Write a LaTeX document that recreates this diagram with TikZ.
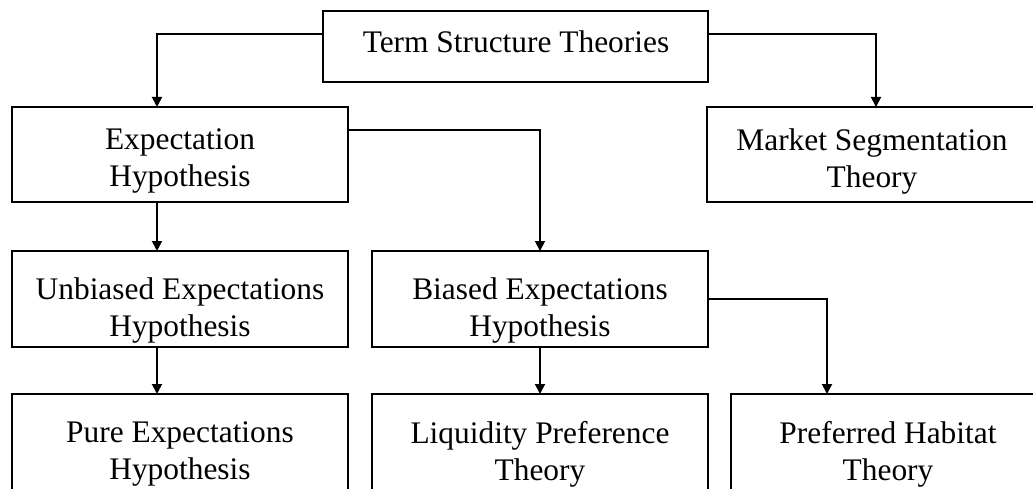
\documentclass[tikz,border=0pt]{standalone}
\usepackage{fontspec}
\setmainfont{Liberation Serif}
\usetikzlibrary{arrows.meta,calc}
\begin{document}
\begin{tikzpicture}[x=1pt,y=-1pt,
 box/.style={draw,line width=1.9pt,anchor=north west,inner sep=0pt,outer sep=0pt},
 lbl/.style={inner sep=0pt,align=center,font=\fontsize{31.4}{37}\selectfont},
 conn/.style={line width=1.9pt,-{Triangle[length=10pt,width=10pt]}}]
\useasboundingbox (0,0) rectangle (1033,489);
\clip (0,0) rectangle (1033,489);
\node[box,minimum width=385pt,minimum height=71pt] (top) at (323,11) {};
\node[box,minimum width=336pt,minimum height=95pt] (exp) at (12,107) {};
\node[box,minimum width=330pt,minimum height=95pt] (mkt) at (707,107) {};
\node[box,minimum width=336pt,minimum height=96pt] (unb) at (12,251) {};
\node[box,minimum width=336pt,minimum height=96pt] (bia) at (372,251) {};
\node[box,minimum width=336pt,minimum height=118pt] (pure) at (12,394) {};
\node[box,minimum width=336pt,minimum height=118pt] (liq) at (372,394) {};
\node[box,minimum width=314pt,minimum height=118pt] (pref) at (731,394) {};
\node[lbl] (topT) at (516,42) {Term Structure Theories};
\node[lbl] (expT) at (180,161) {Expectation\\Hypothesis};
\node[lbl] (mktT) at (872,161) {Market Segmentation\\Theory};
\node[lbl] (unbT) at (180,310) {Unbiased Expectations\\Hypothesis};
\node[lbl] (biaT) at (540,310) {Biased Expectations\\Hypothesis};
\node[lbl] (pureT) at (180,454) {Pure Expectations\\Hypothesis};
\node[lbl] (liqT) at (540,454) {Liquidity Preference\\Theory};
\node[lbl] (prefT) at (888,454) {Preferred Habitat\\Theory};
\draw[conn] ([yshift=12.5pt]top.west) -| ([xshift=-23pt]exp.north);
\draw[conn] ([yshift=12.5pt]top.east) -| ([xshift=4pt]mkt.north);
\draw[conn] ([yshift=24.5pt]exp.east) -| (bia.north);
\draw[conn] ([xshift=-23pt]exp.south) -- ([xshift=-23pt]unb.north);
\draw[conn] ([xshift=-23pt]unb.south) -- ([xshift=-23pt]pure.north);
\draw[conn] (bia.south) -- (liq.north);
\draw[conn] (bia.east) -| ([xshift=-61pt]pref.north);
\end{tikzpicture}
\end{document}
